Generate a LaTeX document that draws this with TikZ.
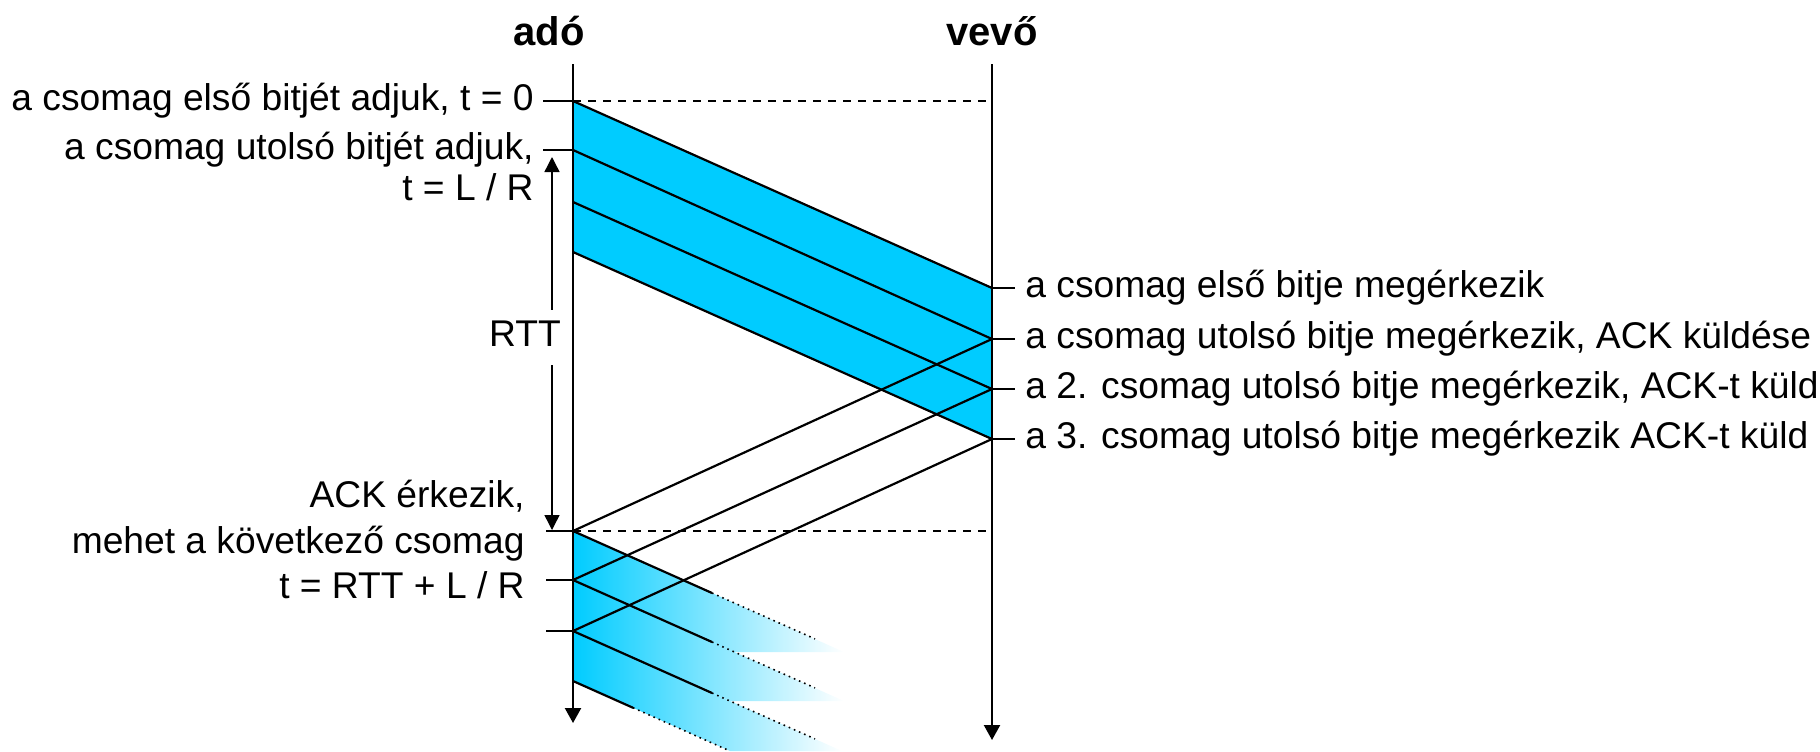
\documentclass[tikz,border=0pt]{standalone}
\usepackage{fontspec}
\setmainfont{Liberation Sans}
\usetikzlibrary{arrows.meta, positioning, calc}
\definecolor{pktblue}{RGB}{0,204,255}

\begin{document}
\begin{tikzpicture}[
  x=0.5pt, y=-0.5pt,
  lbl/.style={inner sep=0pt, font=\fontsize{18.6}{20}\selectfont, text height=13.4pt, text depth=4.1pt},
  head/.style={inner sep=0pt, font=\fontsize{20}{22}\selectfont\bfseries},
  axis/.style={line width=1.1pt, -{Triangle[length=7.5pt, width=8pt]}},
  span/.style={line width=0.7pt, {Triangle[length=7.5pt, width=7.5pt]}-{Triangle[length=7.5pt, width=7.5pt]}},
  pkt/.style={line width=1.1pt},
  tick/.style={line width=1.1pt},
  guide/.style={line width=0.8pt, dash pattern=on 4pt off 3.5pt},
  fade/.style={line width=0.8pt, dotted},
  band/.style={left color=pktblue, middle color=pktblue!32, right color=white}
]
\useasboundingbox (0,0) rectangle (1820,751);

% time points on the two axes
\foreach \i/\y in {0/101,1/150,2/202,3/252} \coordinate (s\i) at (573,\y);
\foreach \i/\y in {0/288,1/339,2/389,3/439} \coordinate (r\i) at (992,\y);
\foreach \i/\y in {0/531,1/580,2/631,3/681} \coordinate (n\i) at (573,\y);

% first window
\fill[pktblue] (s0) -- (r0) -- (r3) -- (s3) -- cycle;

% next window, fading out
\shade[band] (n0) -- (844,652) -- (734,652) -- (n1) -- cycle;
\shade[band] (n1) -- (844,701) -- (730,701) -- (n2) -- cycle;
\shade[band] (n2) -- (842,751) -- (730,751) -- (n3) -- cycle;

% axes
\coordinate (sendtop) at (573,64);
\coordinate (sendbot) at (573,723);
\coordinate (recvtop) at (992,64);
\coordinate (recvbot) at (992,740);
\draw[axis] (sendtop) -- (sendbot);
\draw[axis] (recvtop) -- (recvbot);
\node[head, anchor=base] (sender) at (549,45) {adó};
\node[head, anchor=base] (receiver) at (992,45) {vevő};

\draw[guide] (s0) -- (s0 -| recvtop);
\draw[guide] (n0) -- (n0 -| recvtop);

% packets and acks
\foreach \i in {0,...,3} \draw[pkt] (s\i) -- (r\i);
\foreach \i/\j in {1/0,2/1,3/2} \draw[pkt] (r\i) -- (n\j);
\foreach \i/\a/\b in {0/139/242,1/139/242,2/139/242,3/60/157}{
  \draw[pkt] (n\i) -- ++(\a,{0.446*\a}) coordinate (m\i);
  \draw[fade] (m\i) -- ++({\b-\a},{0.446*(\b-\a)});
}

% ticks
\foreach \i in {0,1} \draw[tick] (s\i) -- ++(-30,0) coordinate (ls\i);
\foreach \i in {0,...,3} \draw[tick] (r\i) -- ++(23,0) coordinate (rs\i);
\foreach \i in {0,1,2} \draw[tick] (n\i) -- ++(-27,0) coordinate (ln\i);

% RTT
\coordinate (rtttop) at (552,157);
\coordinate (rttbot) at (552,530);
\draw[span] (rtttop) -- (rttbot);
\node[lbl, fill=white, inner ysep=5pt] (rtt) at (525,337) {RTT};

% labels
\node[lbl, left=4.5pt of ls0] (first) {a csomag első bitjét adjuk, t = 0};
\node[lbl, left=4.5pt of ls1] (last) {a csomag utolsó bitjét adjuk,};
\node[lbl, below=2.5pt of last.south east, anchor=north east] (lastt) {t = L / R};

\node[lbl, anchor=east] (ackin) at (525,498) {ACK érkezik,};
\node[lbl, below=5pt of ackin.south east, anchor=north east] (go) {mehet a következő csomag};
\node[lbl, below=5pt of go.south east, anchor=north east] (tnext) {t = RTT + L / R};

\node[lbl, right=5pt of rs0] (arr0) {a csomag első bitje megérkezik};
\node[lbl, right=5pt of rs1] (arr1) {a csomag utolsó bitje megérkezik, ACK küldése};
\node[lbl, right=5pt of rs2] (arr2) {a 2. csomag utolsó bitje megérkezik, ACK-t küld};
\node[lbl, right=5pt of rs3] (arr3) {a 3. csomag utolsó bitje megérkezik ACK-t küld};

\end{tikzpicture}
\end{document}
